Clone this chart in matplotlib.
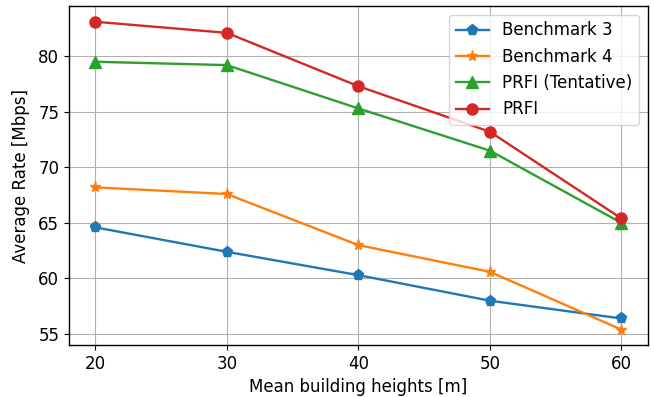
import matplotlib
matplotlib.use("Agg")
import matplotlib.pyplot as plt

heights = [20, 30, 40, 50, 60]
benchmark3 = [64.6, 62.4, 60.3, 58.0, 56.4]
benchmark4 = [68.2, 67.6, 63.0, 60.6, 55.4]
prfi_tentative = [79.5, 79.2, 75.3, 71.5, 65.0]
prfi = [83.1, 82.1, 77.3, 73.2, 65.4]

plt.rcParams.update({
    "font.size": 12,
    "lines.linewidth": 1.7,
    "lines.markersize": 8,
    "axes.linewidth": 1.0,
})

fig, ax = plt.subplots(figsize=(6.51, 3.97), dpi=100)
ax.plot(heights, benchmark3, marker="p", label="Benchmark 3")
ax.plot(heights, benchmark4, marker="*", label="Benchmark 4")
ax.plot(heights, prfi_tentative, marker="^", label="PRFI (Tentative)")
ax.plot(heights, prfi, marker="o", label="PRFI")

ax.set_xlabel("Mean building heights [m]")
ax.set_ylabel("Average Rate [Mbps]", labelpad=6)
ax.set_xticks(heights)
ax.grid(True)
ax.legend(loc="upper right")

fig.subplots_adjust(left=0.106, right=0.995, top=0.984, bottom=0.131)
fig.savefig("out.png", dpi=100)
